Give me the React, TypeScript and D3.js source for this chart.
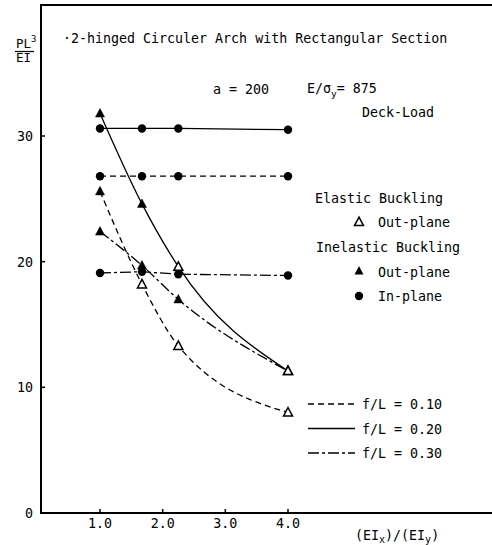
import React from "react";
import * as d3 from "d3";

// ---- data ----
const xRatio = [1.0, 1.67, 2.25, 4.0]; // (EIx)/(EIy)
// in-plane inelastic buckling (filled circles)
const inPlane010 = [26.8, 26.8, 26.8, 26.8];
const inPlane020 = [30.6, 30.6, 30.6, 30.5];
const inPlane030 = [19.1, 19.2, 19.0, 18.9];
// out-of-plane buckling (triangles), elastic flags mark open triangles
const outPlane010 = [25.6, 18.2, 13.3, 8.0];
const outPlane010Elastic = [false, true, true, true];
const outPlane020 = [31.8, 24.6, 19.6, 11.3];
const outPlane020Elastic = [false, false, true, true];
const outPlane030 = [22.4, 19.7, 17.0, 11.3];
const outPlane030Elastic = [false, false, false, true];

const xTicks = [1.0, 2.0, 3.0, 4.0];
const yTicks = [0, 10, 20, 30];
const seriesLabels = ["f/L = 0.10", "f/L = 0.20", "f/L = 0.30"];

const W = 492;
const H = 545;
const FONT = "'DejaVu Sans Mono', 'Liberation Mono', monospace";

const dashStyles = ["6 4", "", "11 3 3 3"];

export default function App() {
  const x = d3.scaleLinear().domain([1, 4]).range([100, 288]);
  const y = d3.scaleLinear().domain([0, 30]).range([513, 136]);

  const lineStraight = d3
    .line<[number, number]>()
    .x((d) => x(d[0]))
    .y((d) => y(d[1]));
  const lineCurve = d3
    .line<[number, number]>()
    .x((d) => x(d[0]))
    .y((d) => y(d[1]))
    .curve(d3.curveMonotoneX);

  const inPlane = [inPlane010, inPlane020, inPlane030];
  const outPlane = [outPlane010, outPlane020, outPlane030];
  const outElastic = [outPlane010Elastic, outPlane020Elastic, outPlane030Elastic];

  const tri = (cx: number, cy: number, s = 9) =>
    `M${cx},${cy - s * 0.55}L${cx + s / 2},${cy + s * 0.4}L${cx - s / 2},${cy + s * 0.4}Z`;

  const axisLeft = 41;
  const axisBottom = y(0);
  const axisTop = 5;

  return (
    <svg
      width={W}
      height={H}
      style={{ position: "absolute", left: 0, top: 0, background: "#fff" }}
      fontFamily={FONT}
    >
      <rect x={0} y={0} width={W} height={H} fill="#fff" />
      {/* frame */}
      <line x1={axisLeft} x2={W} y1={axisTop} y2={axisTop} stroke="#000" strokeWidth={2} />
      <line x1={axisLeft} x2={axisLeft} y1={axisTop - 1} y2={axisBottom + 1} stroke="#000" strokeWidth={2} />
      <line x1={axisLeft} x2={W} y1={axisBottom} y2={axisBottom} stroke="#000" strokeWidth={2} />

      {/* y ticks */}
      {yTicks.map((t) => (
        <g key={"yt" + t}>
          {t > 0 && (
            <line x1={axisLeft} x2={axisLeft + 4} y1={y(t)} y2={y(t)} stroke="#000" strokeWidth={1.5} />
          )}
          <text x={33} y={y(t) + 5} textAnchor="end" fontSize={13.3} fill="#000">
            {t}
          </text>
        </g>
      ))}
      {/* x ticks */}
      {xTicks.map((t) => (
        <g key={"xt" + t}>
          <line x1={x(t)} x2={x(t)} y1={axisBottom} y2={axisBottom - 4} stroke="#000" strokeWidth={1.5} />
          <text x={x(t)} y={528} textAnchor="middle" fontSize={13.3} fill="#000">
            {t.toFixed(1)}
          </text>
        </g>
      ))}

      {/* axis titles */}
      <text x={355} y={540} fontSize={13.3} fill="#000">
        (EI<tspan fontSize={10} dy={3}>x</tspan>
        <tspan dy={-3}>)/(EI</tspan>
        <tspan fontSize={10} dy={3}>y</tspan>
        <tspan dy={-3}>)</tspan>
      </text>
      <text x={16} y={48} fontSize={12.5} fill="#000">
        PL<tspan fontSize={9} dy={-6}>3</tspan>
      </text>
      <line x1={15} x2={34} y1={51.5} y2={51.5} stroke="#000" strokeWidth={1.2} />
      <text x={16} y={62} fontSize={12.5} fill="#000">
        EI
      </text>

      {/* annotations */}
      <text x={63} y={43} fontSize={13.3} fill="#000">
        ·2-hinged Circuler Arch with Rectangular Section
      </text>
      <text x={213} y={94} fontSize={13.3} fill="#000">
        a = 200
      </text>
      <text x={307} y={93} fontSize={13.3} fill="#000">
        E/σ<tspan fontSize={9.5} dy={4}>y</tspan>
        <tspan dy={-4}>= 875</tspan>
      </text>
      <text x={362} y={117} fontSize={13.3} fill="#000">
        Deck-Load
      </text>

      <text x={315} y={203} fontSize={13.3} fill="#000">
        Elastic Buckling
      </text>
      <path d={tri(359, 222, 9)} fill="#fff" stroke="#000" strokeWidth={1.5} />
      <text x={378} y={227} fontSize={13.3} fill="#000">
        Out-plane
      </text>
      <text x={316} y={252} fontSize={13.3} fill="#000">
        Inelastic Buckling
      </text>
      <path d={tri(359, 271, 9)} fill="#000" />
      <text x={378} y={277} fontSize={13.3} fill="#000">
        Out-plane
      </text>
      <circle cx={359} cy={296} r={4.2} fill="#000" />
      <text x={378} y={301} fontSize={13.3} fill="#000">
        In-plane
      </text>

      {/* line legend */}
      {seriesLabels.map((lab, i) => (
        <g key={lab}>
          <line
            x1={308}
            x2={355}
            y1={404 + i * 24.5}
            y2={404 + i * 24.5}
            stroke="#000"
            strokeWidth={1.3}
            strokeDasharray={dashStyles[i] || undefined}
          />
          <text x={362} y={409 + i * 24.5} fontSize={13.3} fill="#000">
            {lab}
          </text>
        </g>
      ))}

      {/* in-plane lines */}
      {inPlane.map((vals, i) => (
        <path
          key={"ip" + i}
          d={lineStraight(xRatio.map((v, j) => [v, vals[j]] as [number, number])) || ""}
          fill="none"
          stroke="#000"
          strokeWidth={1.3}
          strokeDasharray={dashStyles[i] || undefined}
        />
      ))}
      {/* out-plane curves */}
      {outPlane.map((vals, i) => (
        <path
          key={"op" + i}
          d={lineCurve(xRatio.map((v, j) => [v, vals[j]] as [number, number])) || ""}
          fill="none"
          stroke="#000"
          strokeWidth={1.3}
          strokeDasharray={dashStyles[i] || undefined}
        />
      ))}

      {/* markers */}
      {inPlane.map((vals, i) =>
        vals.map((v, j) => (
          <circle key={`c${i}-${j}`} cx={x(xRatio[j])} cy={y(v)} r={4.2} fill="#000" />
        ))
      )}
      {outPlane.map((vals, i) =>
        vals.map((v, j) => (
          <path
            key={`t${i}-${j}`}
            d={tri(x(xRatio[j]), y(v), 9)}
            fill={outElastic[i][j] ? "#fff" : "#000"}
            stroke="#000"
            strokeWidth={outElastic[i][j] ? 1.5 : 0.5}
          />
        ))
      )}
    </svg>
  );
}
